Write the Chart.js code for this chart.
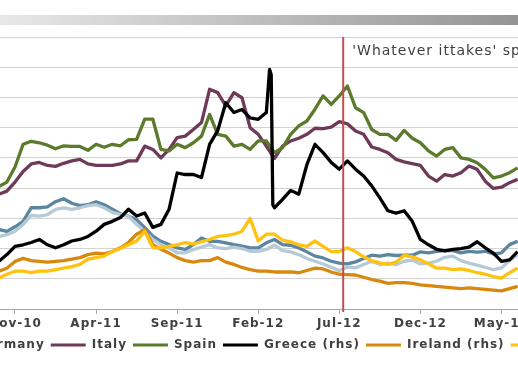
<!DOCTYPE html>
<html>
<head>
<meta charset="utf-8">
<script src="https://cdn.jsdelivr.net/npm/chart.js@4"></script>
<style>
  html, body { margin: 0; padding: 0; background: #fff; overflow: hidden; }
  #page { position: relative; width: 518px; height: 369px; overflow: hidden; }
  #band { position: absolute; left: 0; top: 15px; width: 518px; height: 10px;
          background: linear-gradient(to right, #e8e8e8, #949494); }
  #holder { position: absolute; left: -191px; top: 0; width: 900px; height: 369px; }
</style>
</head>
<body>
<div id="page">
  <div id="band"></div>
  <div id="holder"><canvas id="grafico" width="900" height="369"></canvas></div>
</div>
<script>
// x = months since Jan-2010 (10 = Nov-10, 30 = Jul-12)
const months = [9.0, 9.5, 10, 10.5, 11, 11.5, 12, 12.5, 13, 13.5, 14, 14.5, 15, 15.5, 16, 16.5, 17,
  17.5, 18, 18.5, 19, 19.5, 20, 20.5, 21, 21.5, 22, 22.5, 23, 23.5, 24, 24.5, 25,
  25.5, 25.7, 25.8, 25.9, 26, 26.5, 27, 27.5, 28, 28.5, 29, 29.5, 30, 30.5, 31, 31.5, 32, 32.5, 33,
  33.5, 34, 34.5, 35, 35.5, 36, 36.5, 37, 37.5, 38, 38.5, 39, 39.5, 40, 40.5, 41];

// lhs
const france = [2.63, 2.57, 2.72, 2.9, 3.35, 3.35, 3.38, 3.55, 3.65, 3.5, 3.42, 3.45, 3.55, 3.45, 3.3, 3.15, 3.07,
  2.96, 2.69, 2.41, 2.24, 2.13, 2.02, 1.97, 2.13, 2.35, 2.24, 2.24, 2.19, 2.13, 2.08, 2.02, 2.02,
  2.19, null, null, null, 2.30, 2.13, 2.11, 2.02, 1.89, 1.75, 1.69, 1.58, 1.52, 1.49, 1.56, 1.67, 1.78, 1.75, 1.80,
  1.77, 1.78, 1.78, 1.89, 1.86, 1.91, 1.93, 1.93, 1.86, 1.91, 1.88, 1.91, 1.82, 1.86, 2.13, 2.24];
const germany = [2.4, 2.46, 2.57, 2.8, 3.1, 3.07, 3.12, 3.3, 3.35, 3.3, 3.35, 3.42, 3.45, 3.35, 3.2, 3.13, 3.07,
  2.8, 2.57, 2.3, 2.13, 2.02, 1.86, 1.86, 1.97, 2.05, 2.13, 2.02, 2.0, 2.05, 2.0, 1.91, 1.91,
  1.97, null, null, null, 2.11, 1.93, 1.89, 1.80, 1.67, 1.58, 1.49, 1.38, 1.27, 1.39, 1.36, 1.47, 1.58, 1.47, 1.52,
  1.47, 1.58, 1.62, 1.49, 1.52, 1.58, 1.71, 1.75, 1.60, 1.52, 1.45, 1.38, 1.30, 1.36, 1.60, 1.80];
const italy = [3.8, 3.9, 4.2, 4.55, 4.8, 4.85, 4.75, 4.72, 4.82, 4.9, 4.95, 4.8, 4.75, 4.75, 4.75, 4.8, 4.9,
  4.9, 5.39, 5.28, 5.0, 5.28, 5.67, 5.72, 5.94, 6.17, 7.27, 7.16, 6.72, 7.16, 6.99, 6.0, 5.78,
  5.39, null, null, null, 4.98, 5.39, 5.56, 5.65, 5.78, 5.98, 5.97, 6.02, 6.20, 6.13, 5.89, 5.78, 5.36, 5.28, 5.17,
  4.95, 4.87, 4.81, 4.75, 4.40, 4.23, 4.45, 4.40, 4.51, 4.73, 4.62, 4.23, 3.99, 4.03, 4.18, 4.29];
const spain = [4.05, 4.2, 4.7, 5.45, 5.55, 5.5, 5.42, 5.3, 5.4, 5.38, 5.38, 5.25, 5.45, 5.35, 5.45, 5.4, 5.6,
  5.61, 6.28, 6.28, 5.28, 5.23, 5.45, 5.34, 5.50, 5.72, 6.44, 5.78, 5.72, 5.39, 5.45, 5.28, 5.56,
  5.56, null, null, null, 5.17, 5.34, 5.78, 6.06, 6.22, 6.61, 7.05, 6.77, 7.05, 7.38, 6.66, 6.50, 5.94, 5.78, 5.78,
  5.58, 5.91, 5.65, 5.50, 5.23, 5.06, 5.28, 5.34, 5.0, 4.95, 4.84, 4.62, 4.34, 4.40, 4.51, 4.67];
// rhs
const greece = [11.3, 12.2, 13.3, 13.5, 13.8, 14.2, 13.5, 13.1, 13.5, 14.0, 14.2, 14.6, 15.3, 16.2, 16.6, 17.1, 18.2,
  17.3, 17.7, 15.8, 16.2, 18.2, 23.0, 22.8, 22.8, 22.4, 26.8, 28.6, 32.3, 31.0, 31.4, 30.3, 30.1,
  31.0, 36.7, 36.0, 18.8, 18.4, 19.5, 20.7, 20.2, 24.1, 26.8, 25.7, 24.4, 23.5, 24.6, 23.5, 22.6, 21.3, 19.7, 18.0,
  17.7, 18.0, 16.6, 14.2, 13.5, 12.9, 12.7, 12.9, 13.0, 13.2, 13.9, 13.1, 12.4, 11.3, 11.5, 12.6];
const ireland = [10.0, 10.4, 11.3, 11.7, 11.4, 11.3, 11.2, 11.3, 11.4, 11.6, 11.8, 12.2, 12.4, 12.3, 12.6, 13.1, 13.8,
  14.9, 15.5, 13.5, 12.9, 12.4, 11.8, 11.4, 11.2, 11.4, 11.4, 11.8, 11.2, 10.9, 10.5, 10.2, 10.0,
  10.0, null, null, null, 9.9, 9.9, 9.9, 9.8, 10.1, 10.4, 10.3, 9.9, 9.6, 9.55, 9.5, 9.2, 8.9, 8.7, 8.4,
  8.5, 8.5, 8.4, 8.2, 8.1, 8.0, 7.9, 7.8, 7.7, 7.8, 7.7, 7.6, 7.5, 7.4, 7.7, 8.0];
const portugal = [9.1, 9.6, 10.0, 10.0, 9.8, 10.0, 10.0, 10.2, 10.4, 10.6, 10.9, 11.6, 11.8, 12.0, 12.6, 13.0, 13.5,
  14.0, 15.3, 13.1, 13.1, 13.3, 13.5, 13.8, 13.6, 13.9, 14.2, 14.6, 14.7, 14.9, 15.3, 17.0, 14.0,
  14.9, null, null, null, 14.9, 14.1, 13.9, 13.5, 13.3, 14.0, 13.3, 12.6, 12.6, 13.1, 12.6, 11.9, 11.4, 11.1, 10.9,
  11.2, 12.1, 11.9, 11.5, 11.0, 10.4, 10.4, 10.2, 10.3, 10.1, 9.8, 9.6, 9.3, 9.1, 9.8, 10.4];

const seriesNames = ['France', 'Germany', 'Italy', 'Spain', 'Greece (rhs)', 'Ireland (rhs)', 'Portugal (rhs)'];
const seriesData = [france, germany, italy, spain, greece, ireland, portugal];
const seriesAxis = ['y', 'y', 'y', 'y', 'y1', 'y1', 'y1'];
const seriesColors = ['#5b85a0', '#b6c9d6', '#6e3a58', '#5c7a2b', '#000000', '#d9880e', '#ffc20e'];

const tickMonths = [10, 15, 20, 25, 30, 35, 40];
const tickLabels = ['Nov-10', 'Apr-11', 'Sep-11', 'Feb-12', 'Jul-12', 'Dec-12', 'May-13'];

const eventMonth = 30.24;
const eventLabel = "'Whatever ittakes' speech";

const textColor = '#404040';
const fontFamily = "'DejaVu Sans', Verdana, sans-serif";

// espaçamento de letras no canvas (texto largo como no original)
const spacingPlugin = {
  id: 'spacing',
  beforeUpdate(chart) { chart.ctx.letterSpacing = '1px'; },
  beforeDraw(chart) { chart.ctx.letterSpacing = '1px'; }
};

// linha vertical vermelha + texto
const eventPlugin = {
  id: 'eventLine',
  afterDatasetsDraw(chart) {
    const ctx = chart.ctx;
    const area = chart.chartArea;
    const x = chart.scales.x.getPixelForValue(eventMonth);
    ctx.save();
    ctx.strokeStyle = '#c0504d';
    ctx.lineWidth = 2;
    ctx.beginPath();
    ctx.moveTo(x, area.top);
    ctx.lineTo(x, area.bottom + 3);
    ctx.stroke();
    ctx.letterSpacing = '1px';
    ctx.fillStyle = textColor;
    ctx.font = '14px ' + fontFamily;
    ctx.textBaseline = 'middle';
    ctx.textAlign = 'left';
    ctx.fillText(eventLabel, x + 9, area.top + 14);
    ctx.restore();
  }
};

const datasets = seriesNames.map((name, i) => ({
  label: name,
  data: months.map((m, j) => ({ x: m, y: seriesData[i][j] })),
  yAxisID: seriesAxis[i],
  borderColor: seriesColors[i],
  backgroundColor: seriesColors[i],
  borderWidth: 3.3,
  pointRadius: 0,
  tension: 0,
  spanGaps: true,
  borderJoinStyle: 'round',
  order: seriesNames.length - i
}));

const ctx = document.getElementById('grafico').getContext('2d');
new Chart(ctx, {
  type: 'line',
  data: { datasets: datasets },
  plugins: [spacingPlugin, eventPlugin],
  options: {
    responsive: false,
    animation: false,
    devicePixelRatio: 1,
    layout: { padding: { top: 37, bottom: 8, left: 0, right: 20 } },
    plugins: {
      tooltip: { enabled: false },
      legend: {
        position: 'bottom',
        labels: {
          boxWidth: 35,
          boxHeight: 3,
          padding: 6,
          color: textColor,
          font: { family: fontFamily, size: 12, weight: 'bold' },
          generateLabels: (chart) => Chart.defaults.plugins.legend.labels.generateLabels(chart)
            .map(l => Object.assign(l, { fillStyle: l.strokeStyle, lineWidth: 0 }))
            .sort((a, b) => a.datasetIndex - b.datasetIndex)
        }
      }
    },
    scales: {
      x: {
        type: 'linear',
        min: 9.075,
        max: 41.02,
        ticks: {
          stepSize: 5,
          includeBounds: false,
          autoSkip: false,
          maxRotation: 0,
          padding: 3,
          color: textColor,
          font: { family: fontFamily, size: 12, weight: 'bold' },
          callback: (v) => {
            const k = tickMonths.indexOf(v);
            return k >= 0 ? tickLabels[k] : '';
          }
        },
        grid: { drawOnChartArea: false, drawTicks: true, tickLength: 5, color: '#a6a6a6' },
        border: { display: true, color: '#a6a6a6' },
        afterFit: (s) => { s.height = 24; }
      },
      y: {
        min: 0,
        max: 9,
        ticks: { display: false, stepSize: 1 },
        grid: { color: '#d2d2d2', drawTicks: false },
        border: { display: false },
        afterFit: (s) => { s.width = 191; }
      },
      y1: {
        position: 'right',
        min: 5,
        max: 41,
        ticks: { display: false, stepSize: 4 },
        grid: { drawOnChartArea: false, drawTicks: false },
        border: { display: false },
        afterFit: (s) => { s.width = 171; }
      }
    }
  }
});
</script>
</body>
</html>
